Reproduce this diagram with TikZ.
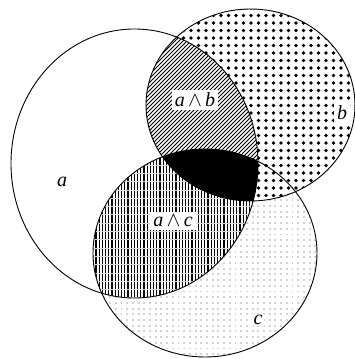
\documentclass[tikz,border=0pt]{standalone}
\usepackage{fontspec}
\setmainfont{Liberation Serif}
\begin{document}
\begin{tikzpicture}[x=1pt,y=-1pt,
  outline/.style={line width=0.9pt},
  lab/.style={font=\fontsize{20}{22}\selectfont, inner sep=1.5pt},
  boxlab/.style={lab, fill=white, inner sep=3pt}]
\useasboundingbox (0,0) rectangle (354,359);
\def\shA{(134.5,163.5) ellipse [x radius=123.5, y radius=134.5]}
\def\shB{(250.5,105) ellipse [x radius=104.5, y radius=96]}
\def\shC{(205,253) ellipse [x radius=112, y radius=104]}
% c: light grey dots
\begin{scope}
  \clip \shC;
  \foreach \i in {0,...,40} \foreach \j in {0,...,37}
    \fill[gray!35] (92+5.7*\i, 148+5.7*\j) rectangle ++(1.9,1.9);
\end{scope}
% b: black dots
\begin{scope}
  \clip \shB;
  \fill[white] \shB;
  \foreach \i in {0,...,29} \foreach \j in {0,...,27}
    \fill (146+7.5*\i, 8+7.5*\j) circle (1.85);
\end{scope}
% a and c: vertical lines
\begin{scope}
  \clip \shA; \clip \shC;
  \fill[white] (80,140) rectangle (270,310);
  \foreach \k in {0,...,60}
    \draw[line width=1.2pt] (80+3.2*\k,140) -- (80+3.2*\k,310);
  \foreach \k in {0,...,21}
    \draw[white!70!gray,line width=0.5pt] (80,140+8.3*\k) -- (270,140+8.3*\k);
\end{scope}
% a and b: diagonal lines
\begin{scope}
  \clip \shA; \clip \shB;
  \fill[white] (140,0) rectangle (270,210);
  \foreach \k in {0,...,90}
    \draw[line width=0.8pt] (-80+4*\k,220) -- (140+4*\k,0);
\end{scope}
% a, b and c: black
\begin{scope}
  \clip \shA; \clip \shB;
  \fill \shC;
\end{scope}
% outlines
\draw[outline] \shA;
\draw[outline] \shB;
\draw[outline] \shC;
% labels
\node[lab] (la) at (62,182) {\itshape a};
\node[boxlab] (lab) at (195,100) {\itshape a\,$\wedge$\,b};
\node[boxlab] (lb) at (342,113) {\itshape b};
\node[boxlab] (lac) at (173,221) {\itshape a\,$\wedge$\,c};
\node[lab, fill=white] (lc) at (258,320) {\itshape c};
\end{tikzpicture}
\end{document}
